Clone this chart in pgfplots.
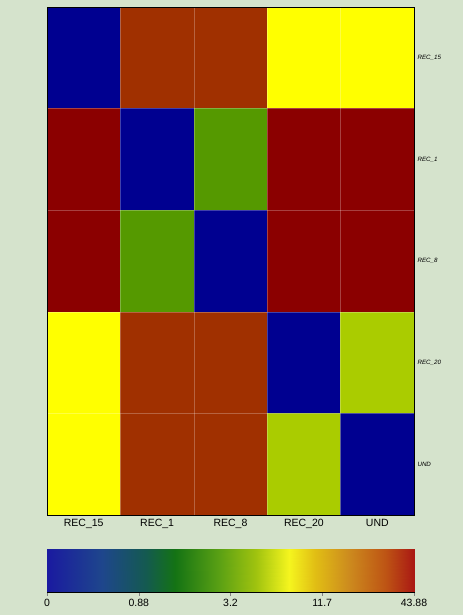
\documentclass[border=0pt]{standalone}
\usepackage{fontspec}
\setmainfont{Liberation Sans}
\usepackage{pgfplots}
\usepackage{pgfplotstable}
\pgfplotsset{compat=1.18}

\definecolor{bg}{RGB}{213,227,204}

% distances, rows top to bottom (y), columns left to right (x)
\pgfplotstableread{
x y v
0 0 0
1 0 30
2 0 30
3 0 8
4 0 8
0 1 43.88
1 1 0
2 1 2.5
3 1 43.88
4 1 43.88
0 2 43.88
1 2 2.5
2 2 0
3 2 43.88
4 2 43.88
0 3 8
1 3 30
2 3 30
3 3 0
4 3 5
0 4 8
1 4 30
2 4 30
3 4 5
4 4 0
}\heat

\begin{document}
\begin{tikzpicture}[x=1pt,y=1pt]
\fill[bg] (0,0) rectangle (463,615);

\begin{axis}[
    at={(47pt,100pt)}, anchor=south west,
    scale only axis, width=367pt, height=508pt,
    xmin=-0.5, xmax=4.5, ymin=-0.5, ymax=4.5,
    y dir=reverse,
    axis on top,
    xtick={0,1,2,3,4},
    xticklabels={REC\_15,REC\_1,REC\_8,REC\_20,UND},
    ytick={0,1,2,3,4},
    yticklabels={REC\_15,REC\_1,REC\_8,REC\_20,UND},
    yticklabel pos=right,
    minor xtick={0.5,1.5,2.5,3.5},
    minor ytick={0.5,1.5,2.5,3.5},
    minor grid style={white, opacity=0.25, line width=0.5pt},
    xminorgrids=true, yminorgrids=true,
    major tick length=0pt, minor tick length=0pt,
    xticklabel style={font=\fontsize{10.5}{12}\selectfont, yshift=-1pt},
    yticklabel style={font=\fontsize{6.2}{7}\selectfont\itshape},
    colormap={heat}{
        rgb255(0pt)=(0,0,144)
        rgb255(25pt)=(85,153,0)
        rgb255(50pt)=(170,204,0)
        rgb255(80pt)=(255,255,0)
        rgb255(300pt)=(160,48,0)
        rgb255(438.8pt)=(139,0,0)},
    point meta min=0, point meta max=43.88,
    axis line style={line width=0.6pt},
]
\addplot[matrix plot*, mesh/cols=5, point meta=explicit] table[meta=v]{\heat};
\end{axis}

\begin{axis}[
    at={(47pt,23pt)}, anchor=south west,
    scale only axis, width=367pt, height=43pt,
    xmin=0, xmax=1, ymin=0, ymax=1,
    ytick=\empty,
    xtick={0,0.25,0.5,0.75,1},
    xticklabels={0,0.88,3.2,11.7,43.88},
    xtick pos=lower, tick align=outside,
    major tick length=4pt,
    xticklabel style={font=\fontsize{10.5}{12}\selectfont},
    colormap={bar}{
        rgb255(0pt)=(26,26,160)
        rgb255(15pt)=(30,70,140)
        rgb255(27pt)=(20,90,80)
        rgb255(35pt)=(20,115,20)
        rgb255(47pt)=(90,160,20)
        rgb255(57pt)=(160,195,15)
        rgb255(66pt)=(245,245,30)
        rgb255(73pt)=(225,190,20)
        rgb255(82pt)=(205,140,30)
        rgb255(92pt)=(190,85,20)
        rgb255(100pt)=(170,25,20)},
    point meta min=0, point meta max=1,
    axis line style={line width=0.6pt},
]
\addplot[surf, shader=interp, mesh/cols=11, point meta=x] coordinates {
(0,0) (0.15,0) (0.27,0) (0.35,0) (0.47,0) (0.57,0) (0.66,0) (0.73,0) (0.82,0) (0.92,0) (1,0)
(0,1) (0.15,1) (0.27,1) (0.35,1) (0.47,1) (0.57,1) (0.66,1) (0.73,1) (0.82,1) (0.92,1) (1,1)
};
\end{axis}
\end{tikzpicture}
\end{document}
